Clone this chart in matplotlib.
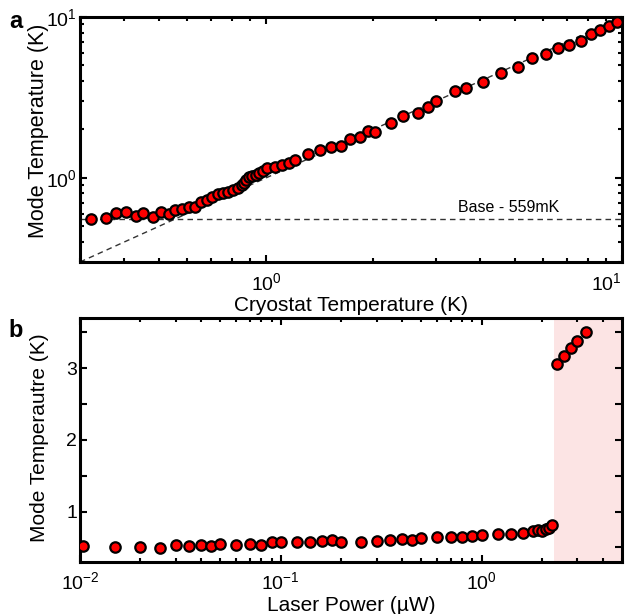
import matplotlib
matplotlib.use("Agg")
import matplotlib.pyplot as plt
from matplotlib.ticker import NullFormatter, MultipleLocator

plt.rcParams['font.family'] = ['Liberation Sans', 'DejaVu Sans']
plt.rcParams['mathtext.fontset'] = 'custom'
plt.rcParams['mathtext.rm'] = 'Liberation Sans'
plt.rcParams['mathtext.it'] = 'Liberation Sans:italic'

# panel a: mode temperature vs cryostat temperature
cryo_T = [0.323, 0.354, 0.378, 0.403, 0.430, 0.452, 0.480, 0.506, 0.532, 0.554,
          0.582, 0.606, 0.632, 0.658, 0.681, 0.703, 0.731, 0.755, 0.780, 0.809,
          0.832, 0.855, 0.866, 0.879, 0.897, 0.911, 0.937, 0.957, 0.979, 1.005,
          1.062, 1.109, 1.156, 1.209, 1.311, 1.419, 1.517, 1.619, 1.725, 1.832,
          1.934, 2.028, 2.239, 2.427, 2.675, 2.842, 3.010, 3.391, 3.636, 4.058,
          4.571, 5.094, 5.576, 6.105, 6.600, 7.104, 7.65, 8.16, 8.65, 9.17, 9.68]
mode_T_a = [0.554, 0.562, 0.604, 0.618, 0.581, 0.604, 0.575, 0.618, 0.598, 0.633,
            0.639, 0.658, 0.658, 0.703, 0.730, 0.766, 0.796, 0.803, 0.822, 0.842,
            0.863, 0.905, 0.935, 0.972, 1.019, 1.029, 1.044, 1.069, 1.105, 1.149,
            1.175, 1.204, 1.234, 1.294, 1.409, 1.493, 1.564, 1.587, 1.739, 1.805,
            1.958, 1.939, 2.187, 2.428, 2.545, 2.773, 3.021, 3.456, 3.638, 3.963,
            4.468, 4.914, 5.586, 5.865, 6.445, 6.698, 7.12, 7.81, 8.30, 8.83, 9.27]
base_T = 0.559
xticks_a = [1, 10]

# panel b: mode temperature vs laser power
power = [0.0104, 0.015, 0.02, 0.025, 0.03, 0.035, 0.04, 0.045, 0.05, 0.06,
         0.07, 0.08, 0.09, 0.1, 0.12, 0.14, 0.16, 0.18, 0.2, 0.25,
         0.3, 0.35, 0.4, 0.45, 0.5, 0.6, 0.7, 0.8, 0.9, 1.0,
         1.2, 1.4, 1.6, 1.8, 1.9, 2.0, 2.1, 2.17, 2.25, 2.38,
         2.58, 2.79, 3.0, 3.3]
mode_T_b = [0.514, 0.508, 0.504, 0.494, 0.532, 0.522, 0.536, 0.518, 0.541, 0.536,
            0.541, 0.536, 0.578, 0.569, 0.569, 0.569, 0.583, 0.601, 0.578, 0.578,
            0.592, 0.606, 0.615, 0.606, 0.625, 0.639, 0.643, 0.647, 0.657, 0.675,
            0.689, 0.689, 0.703, 0.722, 0.740, 0.731, 0.754, 0.764, 0.81, 3.06,
            3.17, 3.28, 3.38, 3.51]
shade_start = 2.28

marker_kw = dict(linestyle='none', marker='o', markersize=7.5, markerfacecolor='#ff0000',
                 markeredgecolor='black', markeredgewidth=1.6, zorder=3)
dash = (0, (4, 3))


def style_axes(ax):
    for s in ax.spines.values():
        s.set_linewidth(2.2)
    ax.tick_params(which='both', direction='in', top=True, right=True, width=1.5, labelsize=14)
    ax.tick_params(which='major', length=5)
    ax.tick_params(axis='x', which='major', pad=7)
    ax.tick_params(axis='y', which='major', pad=2)
    ax.tick_params(which='minor', length=3)


fig = plt.figure(figsize=(6.28, 6.14), dpi=100)

ax1 = fig.add_axes([0.1274, 0.5733, 0.8631, 0.399])
ax1.set_xscale('log')
ax1.set_yscale('log')
ax1.plot([0.3, 10], [0.3, 10], color='#333333', lw=1, linestyle=dash, zorder=1)
ax1.axhline(base_T, color='#333333', lw=1, linestyle=dash, zorder=1)
ax1.plot(cryo_T, mode_T_a, **marker_kw)
ax1.text(3.45, 0.585, 'Base - 559mK', fontsize=11.5, ha='left', va='bottom')
ax1.set_xlim(0.3, 10)
ax1.set_ylim(0.3, 10)
ax1.set_xticks(xticks_a)
ax1.xaxis.set_minor_formatter(NullFormatter())
ax1.yaxis.set_minor_formatter(NullFormatter())
ax1.set_xlabel('Cryostat Temperature (K)', fontsize=15, labelpad=2)
ax1.set_ylabel('Mode Temperature (K)', fontsize=15.5)
ax1.yaxis.set_label_coords(-0.057, 0.535)
style_axes(ax1)

ax2 = fig.add_axes([0.1274, 0.0852, 0.8631, 0.397])
ax2.set_xscale('log')
ax2.axvspan(shade_start, 5, color='#fce4e4', lw=0, zorder=0)
ax2.plot(power, mode_T_b, **marker_kw)
ax2.set_xlim(0.01, 5)
ax2.set_ylim(0.3, 3.7)
ax2.yaxis.set_major_locator(MultipleLocator(1))
ax2.yaxis.set_minor_locator(MultipleLocator(0.5))
ax2.xaxis.set_minor_formatter(NullFormatter())
ax2.set_xlabel('Laser Power (\u00b5W)', fontsize=15, labelpad=2)
ax2.set_ylabel('Mode Temperautre (K)', fontsize=15)
ax2.yaxis.set_label_coords(-0.058, 0.51)
style_axes(ax2)
ax2.tick_params(axis='y', which='minor', length=5)

fig.text(0.014, 0.983, 'a', fontsize=17, fontweight='bold', va='top')
fig.text(0.014, 0.481, 'b', fontsize=17, fontweight='bold', va='top')

# keep the 10^1 label inside the figure, as in the original
ax1.xaxis.get_major_ticks()[1].label1.set_horizontalalignment('right')

fig.savefig('out.png', dpi=100)
